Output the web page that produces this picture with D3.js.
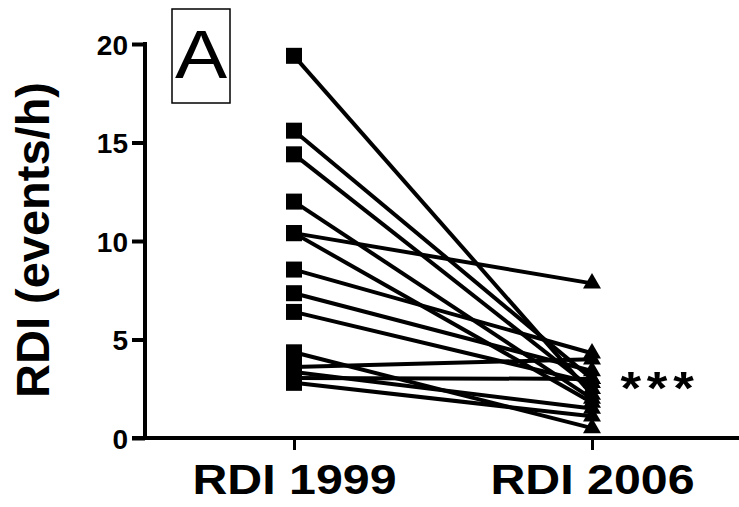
<!DOCTYPE html>
<html>
<head>
<meta charset="utf-8">
<script src="https://cdn.jsdelivr.net/npm/d3@7"></script>
<style>
  body { margin: 0; background: #fff; }
  svg { display: block; }
  text { font-family: "Liberation Sans", Arial, sans-serif; fill: #000; }
</style>
</head>
<body>
<div id="chart"></div>
<script>
// paired RDI values per subject (events/h)
var groups = ["RDI 1999", "RDI 2006"];
var rdi1999 = [19.4, 15.6, 14.4, 12.0, 10.4, 10.4, 8.55, 7.35, 6.4, 4.35, 3.6, 3.35, 3.05, 2.8];
var rdi2006 = [2.2, 3.0, 2.5, 2.0, 7.85, 1.8, 4.3, 3.4, 2.8, 0.5, 4.0, 1.5, 3.0, 1.1];
var yTicks = [0, 5, 10, 15, 20];

var svgWidth = 739;
var svgHeight = 507;

var svg = d3.select("#chart")
  .append("svg")
  .attr("width", svgWidth)
  .attr("height", svgHeight);

//Scales
var yScale = d3.scaleLinear()
  .domain([0, 20])
  .range([438, 44]);

var xScale = d3.scalePoint()
  .domain(groups)
  .range([294, 592]);

//Lines between the paired points
var pairs = rdi1999.map((v, i) => ({ before: v, after: rdi2006[i] }));

svg.selectAll(".pair")
  .data(pairs)
  .enter()
  .append("line")
  .attr("class", "pair")
  .attr("x1", xScale(groups[0]))
  .attr("y1", d => yScale(d.before))
  .attr("x2", xScale(groups[1]))
  .attr("y2", d => yScale(d.after))
  .attr("stroke", "#000")
  .attr("stroke-width", 4);

//Squares for 1999
svg.selectAll(".sq")
  .data(rdi1999)
  .enter()
  .append("rect")
  .attr("class", "sq")
  .attr("x", xScale(groups[0]) - 8)
  .attr("y", d => yScale(d) - 8)
  .attr("width", 16)
  .attr("height", 16)
  .attr("fill", "#000");

//Triangles for 2006
var tri = d3.symbol().type(d3.symbolTriangle).size(140);
svg.selectAll(".tri")
  .data(rdi2006)
  .enter()
  .append("path")
  .attr("class", "tri")
  .attr("d", tri)
  .attr("transform", d => `translate(${xScale(groups[1])}, ${yScale(d)})`)
  .attr("fill", "#000");

//Y axis
var leftAxis = d3.axisLeft(yScale)
  .tickValues(yTicks)
  .tickSize(13)
  .tickPadding(4)
  .tickFormat(d3.format("d"));

var yAxisG = svg.append("g")
  .attr("transform", "translate(145, 0)")
  .call(leftAxis);

yAxisG.select(".domain").remove();
yAxisG.selectAll(".tick line").attr("stroke", "#000").attr("stroke-width", 4);
yAxisG.selectAll(".tick text")
  .attr("font-size", 28)
  .attr("font-weight", "bold")
  .attr("font-family", "Liberation Sans, Arial, sans-serif")
  .attr("dy", "0.36em");

svg.append("line")
  .attr("x1", 145).attr("x2", 145)
  .attr("y1", 42).attr("y2", 440)
  .attr("stroke", "#000").attr("stroke-width", 4);

//X axis
var bottomAxis = d3.axisBottom(xScale)
  .tickSize(12)
  .tickPadding(14);

var xAxisG = svg.append("g")
  .attr("transform", "translate(0, 438)")
  .call(bottomAxis);

xAxisG.select(".domain").remove();
xAxisG.selectAll(".tick line").attr("stroke", "#000").attr("stroke-width", 3);
xAxisG.selectAll(".tick text")
  .attr("font-size", 42)
  .attr("font-weight", "bold")
  .attr("font-family", "Liberation Sans, Arial, sans-serif")
  .attr("transform", "scale(1.15, 1)");

svg.append("line")
  .attr("x1", 132).attr("x2", 739)
  .attr("y1", 438).attr("y2", 438)
  .attr("stroke", "#000").attr("stroke-width", 4);

//Y axis label
svg.append("text")
  .attr("transform", "translate(49, 240) rotate(-90)")
  .attr("text-anchor", "middle")
  .attr("font-size", 47)
  .attr("font-weight", "bold")
  .text("RDI (events/h)");

//Panel letter
svg.append("rect")
  .attr("x", 172).attr("y", 9)
  .attr("width", 58).attr("height", 94)
  .attr("fill", "none")
  .attr("stroke", "#000")
  .attr("stroke-width", 1.5);

svg.append("text")
  .attr("transform", "translate(201, 78) scale(1.15, 1)")
  .attr("text-anchor", "middle")
  .attr("font-size", 68)
  .text("A");

//Significance marker
svg.append("text")
  .attr("transform", "translate(660, 404) scale(1.15, 1)")
  .attr("text-anchor", "middle")
  .attr("font-size", 46)
  .attr("font-weight", "bold")
  .attr("letter-spacing", 5)
  .text("***");
</script>
</body>
</html>
